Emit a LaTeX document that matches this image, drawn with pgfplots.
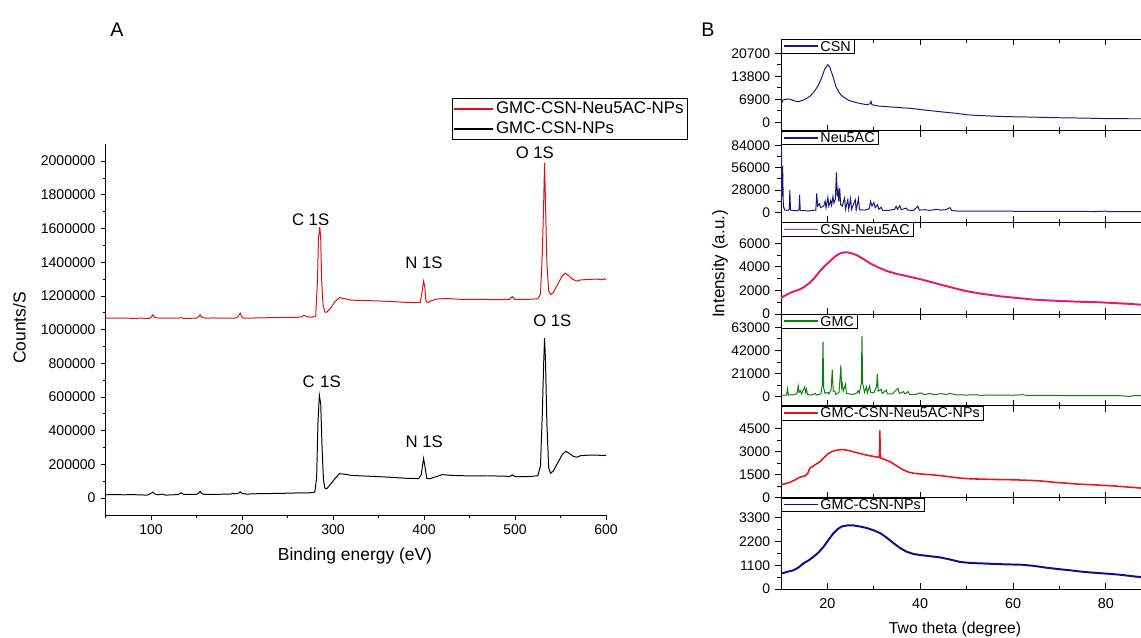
\documentclass[border=0pt]{standalone}
\usepackage{fontspec}
\setmainfont{Liberation Sans}
\usepackage{pgfplots}
\usepackage{pgfplotstable}
\pgfplotsset{compat=1.18}

\definecolor{cred}{RGB}{225,15,20}
\definecolor{cnavy}{RGB}{25,25,125}
\definecolor{cpink}{RGB}{228,28,110}
\definecolor{cgreen}{RGB}{15,125,15}
\definecolor{cred2}{RGB}{232,22,22}
\definecolor{cblue}{RGB}{15,15,140}

\pgfplotstableread{
x y
50 1068000
60 1068000
70 1069000
80 1067000
90 1068000
98 1066000
100 1072000
102 1088000
104 1072000
110 1068000
130 1068000
133 1071000
136 1067000
150 1068000
152 1075000
154 1088000
156 1073000
160 1068000
170 1070000
172 1068000
190 1068000
194 1070000
196 1080000
198 1098000
200 1075000
202 1068000
220 1070000
240 1072000
260 1073000
266 1076000
268 1086000
270 1080000
274 1074000
278 1075000
281 1080000
283 1300000
284 1540000
285.5 1610000
286.5 1540000
287.5 1300000
289 1150000
291 1105000
293 1103000
297 1125000
302 1165000
307 1190000
312 1185000
320 1175000
340 1172000
360 1168000
380 1162000
393 1160000
396 1162000
398 1230000
399.5 1288000
401 1250000
402 1175000
404 1160000
408 1172000
415 1182000
425 1185000
440 1180000
460 1180000
480 1178000
494 1180000
497 1196000
500 1180000
515 1180000
525 1183000
528 1210000
530 1450000
531.5 1750000
532.5 1990000
533.5 1750000
535 1400000
537 1230000
539 1208000
542 1220000
547 1270000
552 1320000
555 1335000
558 1325000
563 1300000
568 1288000
572 1295000
580 1298000
590 1300000
595 1296000
598 1302000
600 1296000
}\xpsA

\pgfplotstableread{
x y
50 20000
60 21000
70 20000
80 21000
90 19000
96 18000
100 28000
102 36000
104 25000
108 20000
112 24000
116 18000
125 20000
130 22000
133 32000
136 22000
145 22000
150 23000
152 28000
154 40000
156 26000
160 22000
175 23000
188 24000
190 30000
192 25000
196 28000
198 38000
200 28000
205 24000
220 27000
240 28000
255 30000
265 32000
275 32000
280 36000
282 120000
283.5 450000
285 610000
286.5 560000
288 300000
289.5 110000
291 60000
293 55000
297 80000
302 115000
307 145000
312 143000
320 135000
340 130000
360 125000
380 118000
394 116000
397 140000
399.5 235000
401 190000
403 118000
406 115000
412 125000
420 140000
430 135000
450 132000
470 133000
490 130000
494 128000
497 138000
500 128000
515 128000
525 133000
528 190000
530 500000
531.5 800000
532.5 950000
533.5 820000
535 450000
537 180000
539 148000
542 160000
547 210000
552 260000
556 278000
559 268000
564 248000
568 243000
572 252000
580 255000
590 256000
595 253000
600 254000
}\xpsB

\pgfplotstableread{
x y
10 5200
10.4 6700
11 6900
11.9 7000
12.6 6600
13.3 6300
14 6300
15 6800
16 7600
16.5 8200
17.2 9300
18 11000
18.8 13500
19.4 15900
20.1 17300
20.5 16600
20.9 15000
21.4 12800
21.8 10800
22.5 9000
23 8100
24 7100
24.8 6500
26 6000
27.3 5600
28.5 5300
29.2 5600
29.4 6300
29.6 5300
31 4900
33 4700
35 4500
38 4200
41 3700
45 3100
48 2700
50 2300
52 2100
54 2000
57 1800
60 1700
64 1600
70 1400
75 1300
80 1150
85 1100
90 1100
}\csn

\pgfplotstableread{
x y
10 10000
10.1 80000
10.2 20000
10.35 58000
10.5 8000
10.8 3000
11.5 2500
11.8 4000
11.9 28000
12.05 3000
13.5 2000
13.9 3500
14.0 22000
14.15 2500
16 2000
17.5 3000
17.7 24000
17.9 8000
18.3 11000
18.5 6000
19.2 8000
19.5 14000
19.7 6000
20.1 19000
20.3 8000
20.7 15000
20.9 9000
21.2 20000
21.4 12000
21.7 16000
21.95 50000
22.1 20000
22.3 28000
22.45 14000
22.65 30000
22.85 10000
23.2 8000
23.7 18000
23.9 4000
24.4 16000
24.6 4000
25.0 17500
25.2 4000
26.0 16000
26.2 3000
26.7 17500
26.9 3500
28.0 3000
29.0 4500
29.3 14000
29.6 8000
30.0 12500
30.3 6000
30.8 9500
31.1 4000
31.6 6500
31.9 2500
33 2500
34.5 4000
34.8 7700
35.1 4000
35.6 8500
35.9 3500
37.0 5500
37.3 3000
38.5 2500
39.5 7700
39.8 3000
41 3500
42 2500
43.5 4000
44.5 3000
45.5 3500
46.4 6000
46.8 2500
48 1800
55 1600
60 1800
60.5 1300
65 1500
70 1400
78 1200
80 1700
80.3 1200
90 1100
}\neu

\pgfplotstableread{
x y
10 1380
11 1600
12 1800
13 1950
14 2080
15 2300
16.2 2660
17.3 3100
18.4 3650
19.5 4100
20.6 4500
21.7 4900
22.7 5140
23.6 5230
24.5 5220
25.4 5130
26.3 5000
27.7 4680
29.2 4300
31 3950
32.8 3650
35 3400
37.1 3220
40 2960
42 2750
44.3 2510
47 2230
50 1940
53 1740
57.2 1510
60 1400
64.4 1230
68 1150
71.6 1090
75 1040
78.75 1000
82 930
85 870
87.4 800
90 750
}\csnneu

\pgfplotstableread{
x y
10 1500
11.2 1500
11.4 7300
11.6 1500
13.0 1800
13.5 3500
13.7 9800
13.9 4000
14.2 5500
14.4 2500
15.1 8900
15.3 4000
15.5 6700
15.7 2000
16.5 1500
17.4 3000
17.6 1500
18.6 2500
18.9 10000
19.05 50000
19.2 8000
19.5 3000
20.1 4000
20.3 2500
20.8 6000
21.05 24500
21.25 5000
21.6 5000
21.8 2000
22.5 4000
22.75 18000
22.9 28500
23.05 9000
23.2 12000
23.4 5000
23.9 11300
24.1 3000
25.5 2000
26.4 3500
26.6 5500
26.9 3500
27.3 12000
27.45 55000
27.6 12000
28.0 4000
28.4 9000
28.6 3500
29.1 9800
29.3 4000
30.0 3500
30.6 9000
30.75 20500
30.95 5000
31.6 6700
31.8 3000
32.7 6000
32.9 2500
34.0 2500
35.2 7600
35.5 3000
36.4 4500
36.7 2500
37.4 4600
37.7 2000
39 2000
40 3500
41 1800
42 3000
43 1800
44.5 2800
45.5 2000
46.5 3000
47.5 1800
50 1500
52 1800
53 1200
55 1500
60 1300
62 1800
63 1200
70 1100
75 1000
83 1000
85 200
86 1000
90 1000
}\gmc

\pgfplotstableread{
x y
10 834
11.9 985
13 1150
14.1 1330
15.2 1420
15.8 1600
16.2 1910
17.3 2130
18.4 2340
19.3 2620
20.2 2880
21.1 3020
22 3100
23.4 3140
24.5 3080
25.6 2990
27 2880
28.5 2770
30 2680
31.2 2620
31.3 4390
31.4 2600
32.3 2500
33.5 2340
35 2060
36.4 1800
37.5 1660
38.5 1590
40 1540
42.8 1480
45.7 1380
48.6 1270
51 1220
53.6 1200
56 1180
60.1 1160
64.4 1110
66 1080
68.7 1000
71 950
73.8 880
76 850
78.75 810
82 750
85 680
87.4 620
90 580
}\npsA

\pgfplotstableread{
x y
10 720
11.3 800
12.7 875
13.8 1010
14.8 1190
16 1340
17 1500
18.1 1700
19.2 1970
20.3 2300
21.3 2590
22.2 2780
23.1 2900
24.3 2950
25.6 2950
27 2900
28.5 2830
30 2720
31.4 2590
32.8 2380
34.3 2120
35.7 1900
37.1 1730
38.5 1630
40 1580
42 1530
44.3 1470
46.5 1370
48.6 1260
51 1210
53.6 1190
56.8 1160
60.1 1140
62 1130
64.4 1080
67 1000
70.2 920
72.5 870
75.2 800
77.6 760
80.2 720
83 670
85 620
87.4 560
90 520
}\npsB

\pgfplotsset{
 panelB/.style={
  scale only axis, width=9.28cm, height=2.2925cm, anchor=south west,
  xmin=10, xmax=90,
  axis x line*=box, axis y line*=left,
  xtick={20,40,60,80}, minor xtick={10,30,50,70,90},
  xtick align=inside, ytick align=outside,
  major tick length=0.15cm, minor tick length=0.09cm,
  xticklabels={},
  minor y tick num=1,
  tick style={black, line width=0.6pt},
  axis line style={line width=0.7pt},
  /pgf/number format/assume math mode=true,
  yticklabel style={font=\fontsize{9.9}{11}\selectfont, /pgf/number format/fixed, /pgf/number format/1000 sep={}},
  xticklabel style={font=\fontsize{10.2}{11}\selectfont, yshift=-0.1cm},
  scaled y ticks=false,
  legend style={at={(0,1)}, anchor=north west, inner xsep=1pt, inner ysep=0pt,
     font=\fontsize{10.2}{11}\selectfont, nodes={inner xsep=1.5pt, inner ysep=0.8pt, text height=7.6pt, text depth=0.6pt}},
  legend cell align=left,
  legend image code/.code={\draw[#1, line width=1.15pt] plot coordinates {(0cm,0cm) (0.45cm,0cm) (0.85cm,0cm)};},
 },
}

\begin{document}
\begin{tikzpicture}
\path[use as bounding box] (0,0) rectangle (28.525,15.925);

% Panel A
\begin{axis}[
  scale only axis, width=12.5125cm, height=9.2675cm, anchor=south west,
  at={(2.6375cm,3.05cm)},
  xmin=50, xmax=600, ymin=-100000, ymax=2100000,
  axis lines*=left,
  tick align=outside,
  xtick={100,200,300,400,500,600}, minor xtick={50,150,250,350,450,550},
  ytick={0,200000,400000,600000,800000,1000000,1200000,1400000,1600000,1800000,2000000},
  minor y tick num=1,
  major tick length=0.125cm, minor tick length=0.075cm,
  tick style={black, line width=0.6pt},
  axis line style={line width=0.7pt},
  scaled y ticks=false,
  /pgf/number format/assume math mode=true,
  yticklabel style={font=\fontsize{10}{12}\selectfont, /pgf/number format/fixed, /pgf/number format/1000 sep={}},
  xticklabel style={font=\fontsize{10}{12}\selectfont},
  legend style={at={(0.6917,1.124)}, anchor=north west, inner xsep=1pt, inner ysep=0pt,
     font=\fontsize{12}{13}\selectfont, nodes={inner xsep=1.5pt, inner ysep=1.5pt, text height=9pt, text depth=2.5pt}},
  legend cell align=left,
  legend image code/.code={\draw[#1, line width=1.15pt] plot coordinates {(0cm,0cm) (0.5cm,0cm) (0.975cm,0cm)};},
]
\addplot[color=cred, line width=0.7pt] table {\xpsA};
\addlegendentry{GMC-CSN-Neu5AC-NPs}
\addplot[color=black, line width=0.7pt] table {\xpsB};
\addlegendentry{GMC-CSN-NPs}
\node[font=\fontsize{11.9}{13}\selectfont] at (axis cs:275.4,1652000) {C 1S};
\node[font=\fontsize{11.9}{13}\selectfont] at (axis cs:400,1396700) {N 1S};
\node[font=\fontsize{11.9}{13}\selectfont] at (axis cs:521.8,2050000) {O 1S};
\node[font=\fontsize{11.9}{13}\selectfont] at (axis cs:287.5,688000) {C\,\,1S};
\node[font=\fontsize{11.9}{13}\selectfont] at (axis cs:400.3,335500) {N 1S};
\node[font=\fontsize{11.9}{13}\selectfont] at (axis cs:541,1050500) {O 1S};
\end{axis}

% Panel B
\begin{axis}[panelB, at={(19.525cm,12.6575cm)}, ymin=-2476, ymax=24965, ytick={0,6900,13800,20700}]
\addplot[color=cnavy, line width=0.7pt] table {\csn};
\addlegendentry{CSN}
\end{axis}
\begin{axis}[panelB, at={(19.525cm,10.365cm)}, ymin=-12400, ymax=102300, ytick={0,28000,56000,84000}]
\addplot[color=cnavy, line width=0.7pt] table {\neu};
\addlegendentry{Neu5AC}
\end{axis}
\begin{axis}[panelB, at={(19.525cm,8.0725cm)}, ymin=0, ymax=7770, ytick={0,2000,4000,6000}]
\addplot[color=cpink, line width=1.4pt] table {\csnneu};
\addlegendentry{CSN-Neu5AC}
\end{axis}
\begin{axis}[panelB, at={(19.525cm,5.78cm)}, ymin=-8250, ymax=74900, ytick={0,21000,42000,63000}]
\addplot[color=cgreen, line width=0.7pt] table {\gmc};
\addlegendentry{GMC}
\end{axis}
\begin{axis}[panelB, at={(19.525cm,3.4875cm)}, ymin=0, ymax=6000, ytick={0,1500,3000,4500}]
\addplot[color=cred2, line width=1.1pt] table {\npsA};
\addlegendentry{GMC-CSN-Neu5AC-NPs}
\end{axis}
\begin{axis}[panelB, at={(19.525cm,1.195cm)}, ymin=0, ymax=4240, ytick={0,1100,2200,3300},
  xticklabels={20,40,60,80}]
\addplot[color=cblue, line width=1.4pt] table {\npsB};
\addlegendentry{GMC-CSN-NPs}
\end{axis}

% labels
\node[font=\fontsize{14}{16}\selectfont] at (2.925,15.175) {A};
\node[font=\fontsize{14}{16}\selectfont] at (17.7,15.175) {B};
\node[font=\fontsize{12.4}{14}\selectfont, rotate=90] at (0.4875,7.725) {Counts/S};
\node[font=\fontsize{12.4}{14}\selectfont] at (8.875,2.025) {Binding energy (eV)};
\node[font=\fontsize{12.1}{14}\selectfont, rotate=90] at (18.0,9.325) {Intensity (a.u.)};
\node[font=\fontsize{11.2}{13}\selectfont, anchor=base] at (23.875,0.09) {Two theta (degree)};
\end{tikzpicture}
\end{document}
